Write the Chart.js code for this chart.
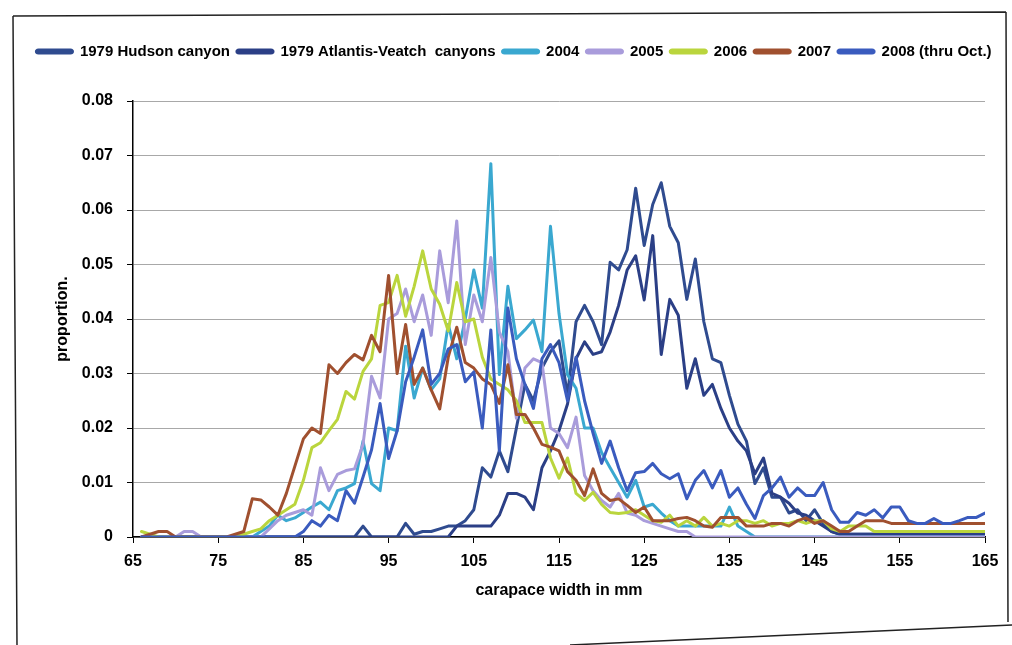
<!DOCTYPE html>
<html>
<head>
<meta charset="utf-8">
<script src="https://cdn.jsdelivr.net/npm/chart.js@4/dist/chart.umd.min.js"></script>
<style>
html,body{margin:0;padding:0;background:#fff;}
#wrap{width:1012px;height:645px;position:relative;}
</style>
</head>
<body>
<div id="wrap"><canvas id="c" width="1012" height="645"></canvas></div>
<script>
// carapace width categories (mm)
const widths = [66,67,68,69,70,71,72,73,74,75,
  76,77,78,79,80,81,82,83,84,85,
  86,87,88,89,90,91,92,93,94,95,
  96,97,98,99,100,101,102,103,104,105,
  106,107,108,109,110,111,112,113,114,115,
  116,117,118,119,120,121,122,123,124,125,
  126,127,128,129,130,131,132,133,134,135,
  136,137,138,139,140,141,142,143,144,145,
  146,147,148,149,150,151,152,153,154,155,
  156,157,158,159,160,161,162,163,164,165];

const hudson1979 = [0,0,0,0,0,0,0,0,0,0,
  0,0,0,0,0,0,0,0,0,0,
  0,0,0,0,0,0,0.002,0,0,0,
  0,0.0025,0.0005,0.001,0.001,0.0015,0.002,0.002,0.003,0.005,
  0.0127,0.011,0.0158,0.012,0.02,0.028,0.025,0.031,0.034,0.036,
  0.026,0.0395,0.0425,0.0395,0.0353,0.0504,0.049,0.0527,0.064,0.0535,
  0.061,0.065,0.057,0.054,0.0436,0.051,0.0395,0.0327,0.032,0.026,
  0.0207,0.0176,0.0098,0.0127,0.0073,0.0073,0.0044,0.005,0.003,0.005,
  0.0025,0.001,0.0005,0.0005,0.0005,0.0005,0.0005,0.0005,0.0005,0.0005,
  0.0005,0.0005,0.0005,0.0005,0.0005,0.0005,0.0005,0.0005,0.0005,0.0005];

const atlantis1979 = [0,0,0,0,0,0,0,0,0,0,
  0,0,0,0,0,0,0,0,0,0,
  0,0,0,0,0,0,0,0,0,0,
  0,0,0,0,0,0,0,0.002,0.002,0.002,
  0.002,0.002,0.004,0.008,0.008,0.0073,0.005,0.0127,0.0158,0.0195,
  0.0244,0.0327,0.0358,0.0335,0.034,0.0376,0.0425,0.049,0.0516,0.0435,
  0.0553,0.0335,0.0436,0.0407,0.0273,0.0327,0.026,0.028,0.0236,0.02,
  0.0176,0.0158,0.0116,0.0145,0.008,0.0073,0.0062,0.0044,0.004,0.003,
  0.002,0.001,0.0005,0.0005,0.0005,0.0005,0.0005,0.0005,0.0005,0.0005,
  0.0005,0.0005,0.0005,0.0005,0.0005,0.0005,0.0005,0.0005,0.0005,0.0005];

const y2004 = [0,0,0,0,0,0,0,0,0,0,
  0,0,0,0,0.001,0.002,0.004,0.003,0.0035,0.0045,
  0.0055,0.0064,0.005,0.0085,0.009,0.0098,0.0176,0.0098,0.0085,0.02,
  0.0195,0.035,0.0255,0.031,0.027,0.029,0.039,0.0327,0.04,0.049,
  0.042,0.0685,0.0298,0.046,0.0364,0.038,0.0398,0.034,0.057,0.041,
  0.0298,0.0273,0.02,0.02,0.0155,0.0127,0.01,0.0073,0.0104,0.0055,
  0.006,0.0044,0.003,0.002,0.002,0.002,0.002,0.002,0.002,0.0055,
  0.002,0.001,0,0,0,0,0,0,0,0,
  0,0,0,0,0,0,0,0,0,0,
  0,0,0,0,0,0,0,0,0,0];

const y2005 = [0,0,0,0,0,0.001,0.001,0,0,0,
  0,0,0,0,0,0.0015,0.003,0.004,0.0045,0.005,
  0.004,0.0127,0.0085,0.0115,0.0122,0.0125,0.017,0.0295,0.0255,0.04,
  0.041,0.0455,0.0395,0.0444,0.037,0.0525,0.043,0.058,0.0353,0.0444,
  0.0395,0.0513,0.0376,0.034,0.0218,0.031,0.0327,0.032,0.02,0.019,
  0.0164,0.022,0.0113,0.0085,0.0067,0.0055,0.008,0.0044,0.004,0.003,
  0.0025,0.002,0.0015,0.001,0.001,0,0,0,0,0,
  0,0,0,0,0,0,0,0,0,0,
  0,0,0,0,0,0,0,0,0,0,
  0,0,0,0,0,0,0,0,0,0];

const y2006 = [0.001,0.0005,0,0,0,0,0,0,0,0,
  0,0,0.0005,0.001,0.0015,0.003,0.004,0.005,0.006,0.0104,
  0.0164,0.0173,0.0195,0.0216,0.0267,0.0253,0.0304,0.0327,0.0425,0.043,
  0.048,0.0405,0.046,0.0525,0.0455,0.0427,0.0378,0.0467,0.0395,0.04,
  0.033,0.029,0.028,0.027,0.025,0.021,0.021,0.021,0.0145,0.0108,
  0.0145,0.008,0.0067,0.0082,0.006,0.0045,0.0043,0.0045,0.005,0.004,
  0.003,0.0027,0.004,0.002,0.003,0.002,0.0036,0.002,0.0025,0.002,
  0.003,0.003,0.0025,0.003,0.002,0.0025,0.0025,0.003,0.0025,0.003,
  0.003,0.0015,0.001,0.002,0.002,0.002,0.001,0.001,0.001,0.001,
  0.001,0.001,0.001,0.001,0.001,0.001,0.001,0.001,0.001,0.001];

const y2007 = [0,0.0005,0.001,0.001,0,0,0,0,0,0,
  0,0.0005,0.001,0.007,0.0068,0.0055,0.004,0.008,0.013,0.018,
  0.02,0.019,0.0316,0.03,0.032,0.0335,0.0325,0.037,0.034,0.048,
  0.03,0.039,0.028,0.031,0.027,0.0235,0.033,0.0385,0.032,0.031,
  0.029,0.028,0.0245,0.0316,0.0225,0.0225,0.02,0.017,0.0165,0.0158,
  0.012,0.0104,0.0076,0.0125,0.008,0.0067,0.007,0.0058,0.0045,0.0055,
  0.003,0.003,0.003,0.0034,0.0036,0.003,0.002,0.0018,0.0036,0.0036,
  0.0036,0.002,0.002,0.002,0.0025,0.0025,0.002,0.003,0.0035,0.0025,
  0.003,0.002,0.001,0.001,0.002,0.003,0.003,0.003,0.0025,0.0025,
  0.0025,0.0025,0.0025,0.0025,0.0025,0.0025,0.0025,0.0025,0.0025,0.0025];

const y2008 = [0,0,0,0,0,0,0,0,0,0,
  0,0,0,0,0,0,0,0,0,0.001,
  0.003,0.002,0.004,0.003,0.0085,0.0062,0.011,0.016,0.0245,0.0144,
  0.0195,0.0285,0.033,0.038,0.028,0.03,0.0345,0.0353,0.0285,0.0303,
  0.02,0.038,0.0158,0.042,0.0327,0.028,0.0236,0.0327,0.0353,0.032,
  0.025,0.033,0.025,0.019,0.0135,0.0176,0.0127,0.0085,0.0118,0.012,
  0.0135,0.0116,0.0107,0.0116,0.007,0.0104,0.0122,0.009,0.0122,0.0073,
  0.009,0.006,0.0034,0.0076,0.009,0.011,0.0073,0.009,0.0076,0.0076,
  0.01,0.005,0.0027,0.0027,0.0045,0.004,0.005,0.0035,0.0055,0.0055,
  0.003,0.0025,0.0025,0.0034,0.0025,0.0025,0.003,0.0036,0.0036,0.0044];

const seriesNames = ['1979 Hudson canyon','1979 Atlantis-Veatch  canyons','2004','2005','2006','2007','2008 (thru Oct.)'];
const seriesValues = [hudson1979, atlantis1979, y2004, y2005, y2006, y2007, y2008];
const seriesColors = ['#2F4B8F','#2B3F86','#3AA8D0','#A99CDB','#BAD53D','#A0502F','#3A5BBE'];

const xTicks = [65,75,85,95,105,115,125,135,145,155,165];
const yTicks = [0,0.01,0.02,0.03,0.04,0.05,0.06,0.07,0.08];

const FONT = "'Liberation Sans', Arial, sans-serif";

// legend keeps the original series order; drawing order reversed so later series sit on top
const datasets = seriesNames.map((name, i) => ({
  label: name,
  data: widths.map((w, k) => ({x: w, y: seriesValues[i][k]})),
  borderColor: seriesColors[i],
  backgroundColor: seriesColors[i],
  borderWidth: 3,
  pointRadius: 0,
  tension: 0,
  borderJoinStyle: 'round',
  borderCapStyle: 'round'
})).reverse();

const framePlugin = {
  id: 'frame',
  afterDraw(chart) {
    const ctx = chart.ctx;
    ctx.save();
    ctx.strokeStyle = '#222';
    ctx.lineWidth = 1.5;
    ctx.beginPath();
    ctx.moveTo(13, 16); ctx.lineTo(1006, 12);
    ctx.moveTo(13, 16); ctx.lineTo(17, 645);
    ctx.moveTo(1006, 12); ctx.lineTo(1008, 622);
    ctx.moveTo(570, 645); ctx.lineTo(1012, 625);
    ctx.stroke();
    ctx.restore();
  }
};

new Chart(document.getElementById('c'), {
  type: 'line',
  data: { datasets },
  plugins: [framePlugin],
  options: {
    responsive: false,
    animation: false,
    devicePixelRatio: 1,
    layout: { padding: { left: 26, right: 10, top: 37, bottom: 41 } },
    plugins: {
      tooltip: { enabled: false },
      legend: {
        position: 'top',
        labels: {
          font: { family: FONT, size: 15, weight: 'bold' },
          color: '#000',
          boxWidth: 36,
          boxHeight: 3,
          padding: 7,
          useBorderRadius: true,
          borderRadius: 2,
          sort: (a, b) => b.datasetIndex - a.datasetIndex
        }
      }
    },
    scales: {
      x: {
        type: 'linear',
        position: 'bottom',
        min: 65, max: 165,
        afterBuildTicks(s) { s.ticks = xTicks.map(v => ({value: v})); },
        ticks: { stepSize: 10, font: { family: FONT, size: 16, weight: 'bold' }, color: '#000', padding: 9, maxRotation: 0 },
        grid: { drawOnChartArea: false, drawTicks: true, tickLength: 6, tickColor: '#000' },
        border: { color: '#000', width: 1.5 },
        title: { display: true, text: 'carapace width in mm', font: { family: FONT, size: 16, weight: 'bold' }, color: '#000', padding: { top: 4, bottom: 4 } },
        afterFit(s) { s.height = 67; }
      },
      y: {
        type: 'linear',
        position: 'left',
        min: 0, max: 0.08,
        afterBuildTicks(s) { s.ticks = yTicks.map(v => ({value: v})); },
        ticks: { stepSize: 0.01, font: { family: FONT, size: 16, weight: 'bold' }, color: '#000', padding: 14,
          callback: v => String(Math.round(v * 100) / 100) },
        grid: { color: '#a8a8a8', lineWidth: 1, drawTicks: true, tickLength: 6, tickColor: '#000' },
        border: { color: '#000', width: 1.5 },
        title: { display: true, text: 'proportion.', font: { family: FONT, size: 16, weight: 'bold' }, color: '#000', padding: { top: 27, bottom: 4 } },
        afterFit(s) { s.width = 107; }
      },
      xTopSpacer: {
        type: 'linear', position: 'top', display: true, min: 0, max: 1,
        ticks: { display: false }, grid: { display: false, drawTicks: false }, border: { display: false },
        afterFit(s) { s.height = 32; }
      },
      yRightSpacer: {
        type: 'linear', position: 'right', display: true, min: 0, max: 1,
        ticks: { display: false }, grid: { display: false, drawTicks: false }, border: { display: false },
        afterFit(s) { s.width = 17; }
      }
    }
  }
});
</script>
</body>
</html>
